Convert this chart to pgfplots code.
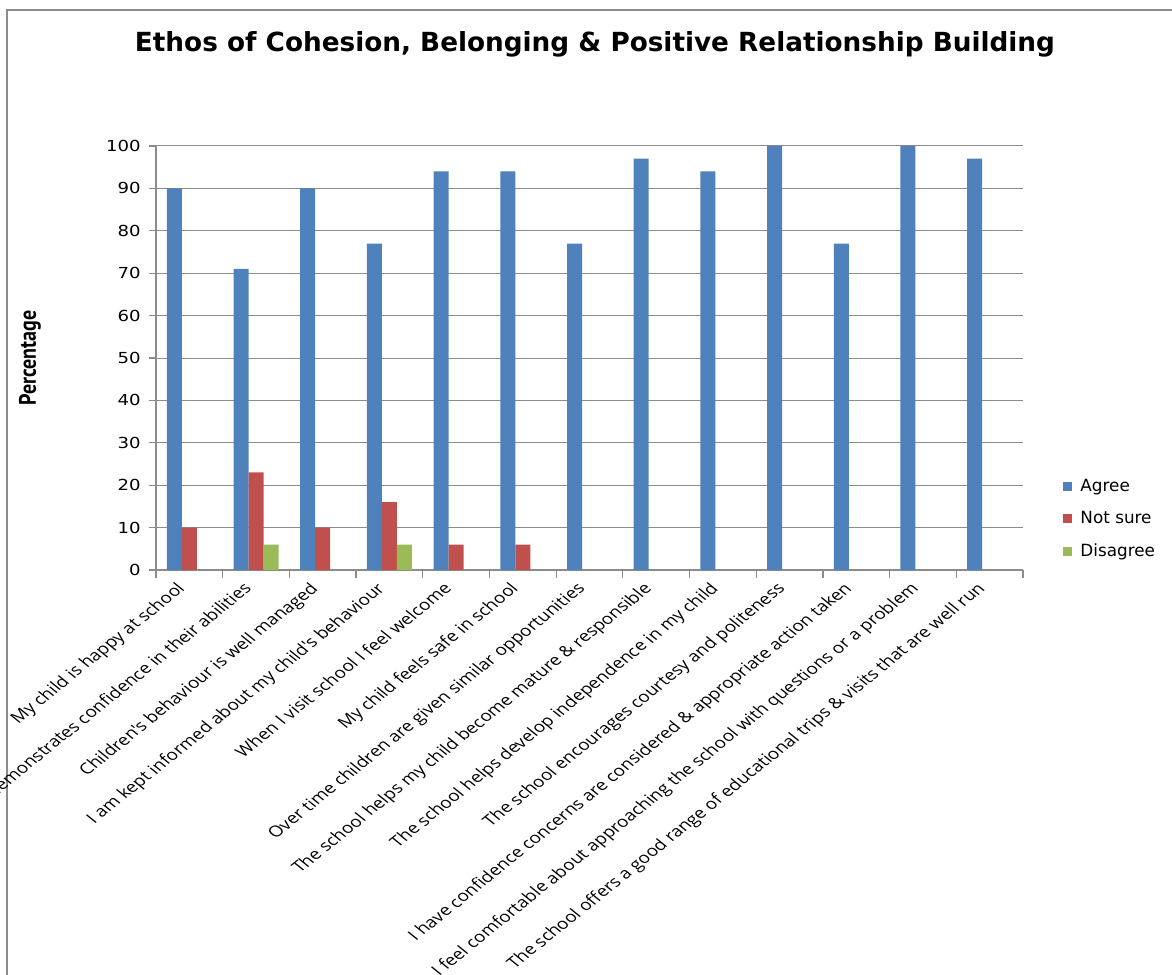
\documentclass[border=0pt]{standalone}
\usepackage{graphicx}
\usepackage{pgfplots}
\pgfplotsset{compat=1.18}
\usepackage{fontspec}
\setmainfont{DejaVu Sans}
\newfontfamily\lblfont{Open Sans}
\newfontfamily\ylabfont{PT Sans}
\definecolor{cA}{HTML}{4F81BD}
\definecolor{cN}{HTML}{C0504D}
\definecolor{cD}{HTML}{9BBB59}
\definecolor{axgray}{HTML}{8C8C8C}
\pgfplotsset{sqlegend/.style={legend image code/.code={\fill[##1] (0pt,-2.3pt) rectangle (4.6pt,2.3pt);}}}
\begin{document}
\begin{tikzpicture}
\path[use as bounding box] (-78pt,-202pt) rectangle (508pt,285pt);
\draw[line width=1pt, color=axgray] (-74.5pt,-230pt) -- (-74.5pt,280pt) -- (540pt,280pt);
\begin{axis}[
  at={(0pt,0pt)}, anchor=south west,
  scale only axis, width=433.5pt, height=212pt,
  xmin=-0.5, xmax=12.5, ymin=0, ymax=100,
  ybar=0pt, bar width=7.5pt,
  axis x line*=bottom, axis y line*=left,
  axis line style={axgray, line width=0.6pt},
  ytick={0,10,...,100},
  xtick={0,...,12},
  minor xtick={-0.5,0.5,...,12.5},
  tick align=outside,
  major tick length=3.5pt, minor tick length=4pt,
  tick style={axgray, line width=0.6pt},
  major x tick style={draw=none},
  ymajorgrids, grid style={axgray, line width=0.5pt},
  /pgf/number format/assume math mode=true,
  xticklabels={
    My child is happy at school,
    My child demonstrates confidence in their abilities,
    Children's behaviour is well managed,
    I am kept informed about my child's behaviour,
    When I visit school I feel welcome,
    My child feels safe in school,
    Over time children are given similar opportunities,
    The school helps my child become mature \& responsible,
    The school helps develop independence in my child,
    The school encourages courtesy and politeness,
    I have confidence concerns are considered \& appropriate action taken,
    I feel comfortable about approaching the school with questions or a problem,
    The school offers a good range of educational trips \& visits that are well run},
  xticklabel style={font=\lblfont\fontsize{7.65}{8.5}\selectfont, xshift=-7pt, yshift=-0.5pt, xscale=1.24, rotate=45, anchor=north east, inner sep=1pt},
  yticklabel style={font=\fontsize{7.6}{8}\selectfont, xscale=1.19, anchor=east},
  every axis y label/.style={at={(axis description cs:-0.1453,0.5)}, xscale=1.19, rotate=90, anchor=center, font=\ylabfont\bfseries\fontsize{10}{11}\selectfont},
  ylabel={Percentage},
  title={\resizebox{460pt}{!}{\bfseries Ethos of Cohesion, Belonging \& Positive Relationship Building}},
  title style={at={(axis description cs:0.5063,1.2123)}, anchor=center, inner sep=0pt},
  legend style={at={(axis description cs:1.046,0.120)}, anchor=west, draw=none, fill=none,
    font=\fontsize{8.4}{9}\selectfont, row sep=5.5pt, inner sep=0pt,
    nodes={inner sep=1.5pt},
    /tikz/every odd column/.append style={column sep=2.5pt}},
  legend cell align=left,
]
\addplot[fill=cA, draw=none, sqlegend] coordinates {
  (0,90) (1,71) (2,90) (3,77) (4,94) (5,94) (6,77) (7,97) (8,94) (9,100) (10,77) (11,100) (12,97)};
\addplot[fill=cN, draw=none, sqlegend] coordinates {
  (0,10) (1,23) (2,10) (3,16) (4,6) (5,6)};
\addplot[fill=cD, draw=none, sqlegend] coordinates {
  (1,6) (3,6)};
\legend{Agree, Not sure, Disagree}
\end{axis}
\end{tikzpicture}
\end{document}
